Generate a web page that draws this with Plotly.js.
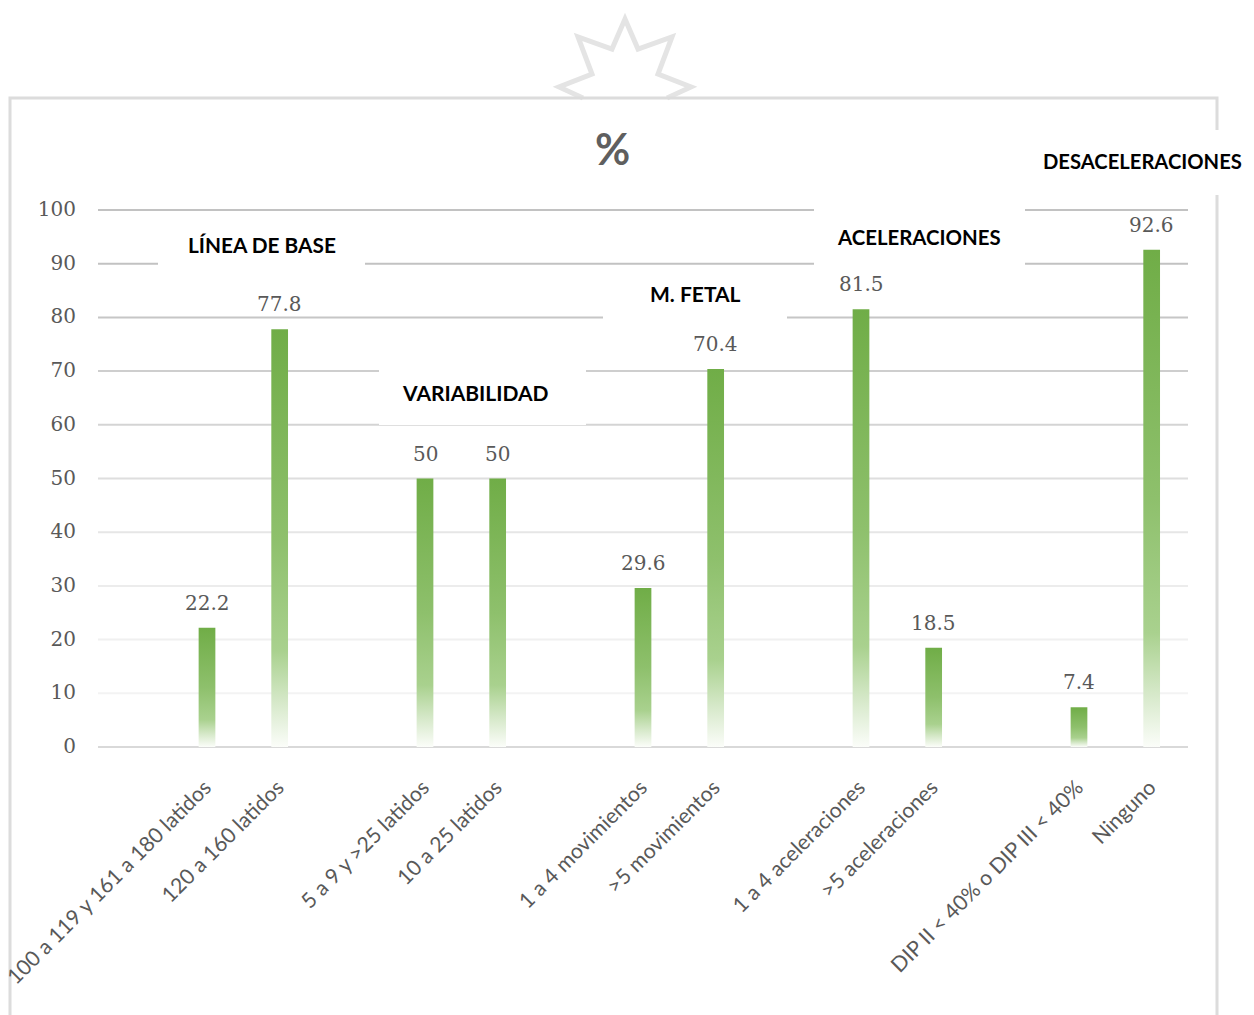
<!DOCTYPE html>
<html lang="es">
<head>
<meta charset="utf-8">
<title>Monitoreo fetal</title>
<script src="https://cdn.plot.ly/plotly-3.0.1.min.js"></script>
<style>
html, body { margin: 0; padding: 0; background: #fff; }
#chart { width: 1254px; height: 1015px; }
</style>
</head>
<body>
<div id="chart"></div>
<script>
// Empty entries leave the gap between one group of bars and the next.
const categories = ['', '100 a 119 y 161 a 180 latidos', '120 a 160 latidos', '',
  '5 a 9 y >25 latidos', '10 a 25 latidos', '',
  '1 a 4 movimientos', '>5 movimientos', '',
  '1 a 4 aceleraciones', '>5 aceleraciones', '',
  'DIP II < 40% o DIP III < 40%', 'Ninguno'];
const percentages = [null, 22.2, 77.8, null, 50, 50, null, 29.6, 70.4, null, 81.5, 18.5, null, 7.4, 92.6];
const yTicks = [0, 10, 20, 30, 40, 50, 60, 70, 80, 90, 100];
const gridColors = ['#d9d9d9', '#f3f3f3', '#f0f0f0', '#ececec', '#e6e6e6', '#dedede', '#d4d4d4', '#cecece', '#c6c6c6', '#c2c2c2', '#c2c2c2'];
const groupNames = ['LÍNEA DE BASE', 'VARIABILIDAD', 'M. FETAL', 'ACELERACIONES', 'DESACELERACIONES'];

// Page geometry of the plot area, used for the decoration drawn around it.
const W = 1254, H = 1015;
const plot = { left: 98, right: 1188, top: 210, bottom: 747 };
const px = x => (x - plot.left) / (plot.right - plot.left);
const py = y => (plot.bottom - y) / (plot.bottom - plot.top);

const groupBoxes = [
  { x: 262, y: 244, size: 20.8, x0: 158, x1: 365, y0: 225, y1: 275 },
  { x: 475.5, y: 392, size: 21, x0: 379, x1: 586, y0: 350, y1: 425 },
  { x: 695, y: 293, size: 21, x0: 603, x1: 787, y0: 280, y1: 330 },
  { x: 919, y: 237, size: 20.4, x0: 814, x1: 1025, y0: 200, y1: 275 },
  { x: 1142.5, y: 161, size: 20.2, x0: 1030, x1: 1254, y0: 130, y1: 195 }
];

const pagePath = pts => pts.map((p, i) => (i ? 'L' : 'M') + px(p[0]) + ',' + py(p[1])).join(' ');

const FRAME = '#dcdcdc';
// Paper references keep the top and bottom lines from being clipped at the plot edge.
const gridShapes = yTicks.map((v, i) => ({
  type: 'line', layer: 'below', xref: 'paper', yref: 'paper',
  x0: 0, x1: 1, y0: v / 100, y1: v / 100,
  line: { color: gridColors[i], width: 2 }
}));
const boxShapes = groupBoxes.map(b => ({
  type: 'rect', layer: 'below', xref: 'paper', yref: 'paper',
  x0: px(b.x0), x1: px(b.x1), y0: py(b.y1), y1: py(b.y0),
  fillcolor: '#ffffff', line: { width: 0 }
}));
const framePaths = [
  [[583, 98], [559, 87], [592, 74], [578, 37], [612, 49], [625, 19], [638, 49], [672, 37], [658, 74], [691, 87], [667, 98]],
  [[10, 1015], [10, 98], [1217, 98], [1217, 130]],
  [[1217, 195], [1217, 1015]]
];
const frameShapes = framePaths.map((pts, i) => ({
  type: 'path', layer: 'below', xref: 'paper', yref: 'paper',
  path: pagePath(pts),
  line: { color: i === 0 ? '#e4e4e4' : FRAME, width: i === 0 ? 5 : 3 }
}));

const slots = categories.map((_, i) => i);
const valueLabels = slots.filter(i => percentages[i] !== null).map(i => ({
  x: i, y: percentages[i], xref: 'x', yref: 'y',
  text: String(percentages[i]), showarrow: false,
  yanchor: 'middle', yshift: 25,
  font: { family: '"DejaVu Serif", serif', size: 20, color: '#595959' }
}));
const groupLabels = groupNames.map((name, i) => ({
  x: px(groupBoxes[i].x), y: py(groupBoxes[i].y), xref: 'paper', yref: 'paper',
  text: name, showarrow: false, xanchor: 'center', yanchor: 'middle',
  font: { family: 'Lato, sans-serif', size: groupBoxes[i].size, weight: 700, color: '#000000' }
}));

const traces = [{
  type: 'bar', x: slots, y: percentages, width: 0.23,
  marker: { color: '#70ad47', line: { width: 0 } },
  hoverinfo: 'skip'
}];

const layout = {
  width: W, height: H,
  margin: { l: plot.left, r: W - plot.right, t: plot.top, b: H - plot.bottom, pad: 0 },
  paper_bgcolor: '#ffffff', plot_bgcolor: 'rgba(0,0,0,0)',
  showlegend: false,
  title: {
    text: '%', x: 612.5 / W, xref: 'container', xanchor: 'center',
    y: 1 - 150 / H, yref: 'container', yanchor: 'middle',
    font: { family: 'Lato, sans-serif', size: 43, weight: 700, color: '#5f5f5f' }
  },
  xaxis: {
    type: 'linear', range: [-0.5, 14.5], tickmode: 'array', tickvals: slots, ticktext: categories,
    tickangle: -45, showgrid: false, zeroline: false, showline: false, ticks: '',
    ticklabelstandoff: 23, ticklabelshift: -2, ticklabeloverflow: 'allow',
    tickfont: { family: 'Lato, sans-serif', size: 21.2, color: '#595959' }
  },
  yaxis: {
    range: [0, 100], tickmode: 'array', tickvals: yTicks, showgrid: false, zeroline: false,
    showline: false, ticks: '', ticklabelstandoff: 21, ticklabelshift: -1,
    tickfont: { family: '"DejaVu Serif", serif', size: 20, color: '#595959' }
  },
  shapes: [...gridShapes, ...boxShapes, ...frameShapes],
  annotations: [...valueLabels, ...groupLabels]
};

Plotly.newPlot('chart', traces, layout, { displayModeBar: false, staticPlot: true }).then(gd => {
  // Plotly bars take flat colours only, so the fade is added as an SVG gradient.
  const svg = gd.querySelector('svg.main-svg');
  const ns = 'http://www.w3.org/2000/svg';
  const grad = document.createElementNS(ns, 'linearGradient');
  grad.id = 'barFade';
  grad.setAttribute('x1', '0'); grad.setAttribute('y1', '0');
  grad.setAttribute('x2', '0'); grad.setAttribute('y2', '1');
  [[0, '#70ad47'], [0.5, '#8ec06c'], [0.77, '#a9d18e'], [0.89, '#d5e8c8'], [1, '#fbfdf9']].forEach(([o, c]) => {
    const s = document.createElementNS(ns, 'stop');
    s.setAttribute('offset', o);
    s.setAttribute('stop-color', c);
    grad.appendChild(s);
  });
  let defs = svg.querySelector('defs');
  if (!defs) { defs = document.createElementNS(ns, 'defs'); svg.prepend(defs); }
  defs.appendChild(grad);
  gd.querySelectorAll('.bars .point path').forEach(p => { p.style.fill = 'url(#barFade)'; });
});
</script>
</body>
</html>
